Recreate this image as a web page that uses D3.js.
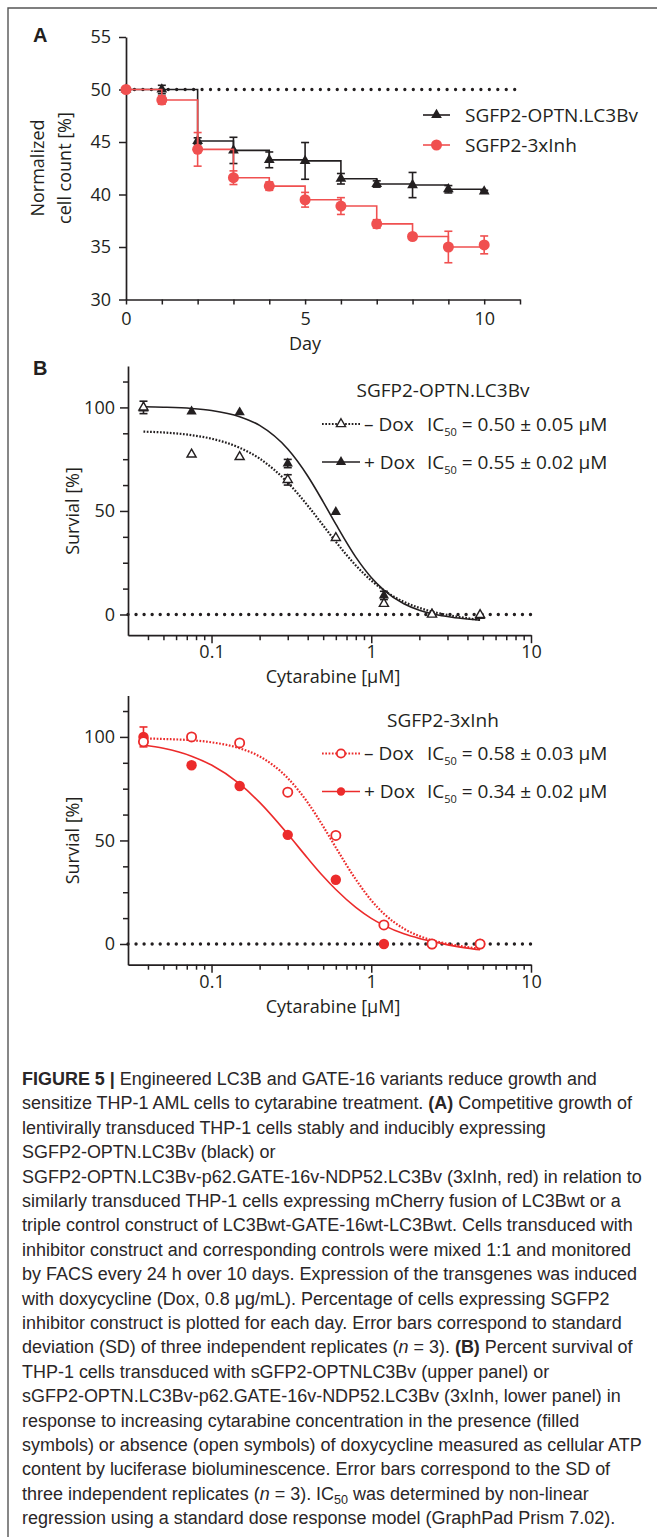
<!DOCTYPE html>
<html><head><meta charset="utf-8">
<script src="https://cdn.jsdelivr.net/npm/d3@7"></script>
<style>
body{margin:0;background:#fff;}
svg{display:block;}
</style></head>
<body>
<svg id="fig" width="657" height="1537"></svg>
<script>
// ---------------- DATA ----------------
// Panel A: competitive growth
const days = [0,1,2,3,4,5,6,7,8,9,10];
const optnMean = [50, 50, 45.1, 44.2, 43.3, 43.2, 41.5, 41.0, 40.9, 40.5, 40.3];
const optnSD   = [0, 0.4, 0.3, 1.25, 0.75, 1.75, 0.5, 0.3, 1.2, 0.35, 0.1];
const inhMean  = [50, 49.0, 44.3, 41.6, 40.8, 39.5, 38.9, 37.2, 36.0, 35.0, 35.2];
const inhSD    = [0, 0.4, 1.6, 0.65, 0.4, 0.7, 0.8, 0.4, 0.2, 1.5, 0.85];
const dayTicks = [0,1,2,3,4,5,6,7,8,9,10,11];
const dayLabels = [0,5,10];
const countTicks = [30,35,40,45,50,55];
const seriesNamesA = ["SGFP2-OPTN.LC3Bv","SGFP2-3xInh"];

// Panel B: dose response (cytarabine, µM)
const concentrations = [0.0375,0.075,0.15,0.3,0.6,1.2,2.4,4.8];
const optnMinusDox   = [100, 77.3, 76.1, 65.0, 37.0, 5.2, 0, -0.2];
const optnMinusSD    = [3, 0, 0, 2.5, 0, 0, 0, 0];
const optnPlusDox    = [99.5, 98.0, 97.6, 72.9, 49.5, 9.2, 0.3, -0.8];
const optnPlusSD     = [0, 0, 0, 2, 0, 2, 0, 0];
const inhMinusDox    = [97.7, 100, 97.1, 73.3, 52.4, 9.2, 0, 0];
const inhMinusSD     = [1.5, 0, 0, 0, 0, 0, 0, 0];
const inhPlusDox     = [100, 86.3, 76.3, 52.7, 31.0, 0, 0, 0];
const inhPlusSD      = [4.8, 0, 0, 0, 0, 0, 0, 0];
// fitted curves
const curveConc     = [0.0375,0.05,0.075,0.1,0.15,0.2,0.3,0.4,0.5,0.6,0.8,1.0,1.2,1.6,2.0,2.4,3.2,4.0,4.8];
const fitOptnMinus  = [88.3,87.9,86.6,84.9,80.5,75.3,63.7,52.6,43.0,35.1,23.7,16.4,11.7,6.1,3.2,1.4,-0.6,-1.8,-2.6];
const fitOptnPlus   = [100.3,100.1,99.5,98.5,95.5,91.3,79.9,66.9,54.4,43.6,27.7,17.9,11.8,5.2,2.1,0.4,-1.3,-2.2,-2.8];
const fitInhMinus   = [99.3,99.0,98.4,97.4,94.5,90.6,80.1,68.3,56.8,46.6,31.2,21.1,14.6,7.4,3.8,1.8,-0.3,-1.5,-2.3];
const fitInhPlus    = [96.1,94.5,90.7,86.4,77.3,68.4,53.1,41.4,32.7,26.3,17.7,12.4,9.0,4.9,2.7,1.3,-0.8,-2.0,-2.8];
const concMajor = [0.1,1,10];
const concMinor = [0.04,0.05,0.06,0.07,0.08,0.09,0.2,0.3,0.4,0.5,0.6,0.7,0.8,0.9,2,3,4,5,6,7,8,9];
const survMajor = [0,50,100];
const survMinor = [12.5,25,37.5,62.5,75,87.5,112.5];
const ic50Optn = ["0.50 ± 0.05","0.55 ± 0.02"];
const ic50Inh  = ["0.58 ± 0.03","0.34 ± 0.02"];

const captionLines = [
 [['FIGURE 5 | ','b'],['Engineered LC3B and GATE-16 variants reduce growth and','']],
 [['sensitize THP-1 AML cells to cytarabine treatment. ',''],['(A)','b'],[' Competitive growth of','']],
 [['lentivirally transduced THP-1 cells stably and inducibly expressing','']],
 [['SGFP2-OPTN.LC3Bv (black) or','']],
 [['SGFP2-OPTN.LC3Bv-p62.GATE-16v-NDP52.LC3Bv (3xInh, red) in relation to','']],
 [['similarly transduced THP-1 cells expressing mCherry fusion of LC3Bwt or a','']],
 [['triple control construct of LC3Bwt-GATE-16wt-LC3Bwt. Cells transduced with','']],
 [['inhibitor construct and corresponding controls were mixed 1:1 and monitored','']],
 [['by FACS every 24 h over 10 days. Expression of the transgenes was induced','']],
 [['with doxycycline (Dox, 0.8 μg/mL). Percentage of cells expressing SGFP2','']],
 [['inhibitor construct is plotted for each day. Error bars correspond to standard','']],
 [['deviation (SD) of three independent replicates (',''],['n','i'],[' = 3). ',''],['(B)','b'],[' Percent survival of','']],
 [['THP-1 cells transduced with sGFP2-OPTNLC3Bv (upper panel) or','']],
 [['sGFP2-OPTN.LC3Bv-p62.GATE-16v-NDP52.LC3Bv (3xInh, lower panel) in','']],
 [['response to increasing cytarabine concentration in the presence (filled','']],
 [['symbols) or absence (open symbols) of doxycycline measured as cellular ATP','']],
 [['content by luciferase bioluminescence. Error bars correspond to the SD of','']],
 [['three independent replicates (',''],['n','i'],[' = 3). IC',''],['50','sub'],[' was determined by non-linear','']],
 [['regression using a standard dose response model (GraphPad Prism 7.02).','']]
];

// ---------------- STYLE ----------------
const BLACK = '#231f20';
const RED_A = '#f05050';
const RED_B = '#ec2b2b';
const FONT = "'Open Sans','Noto Sans',sans-serif";
const CAPFONT = "'Liberation Sans',Arial,sans-serif";

const svg = d3.select('#fig');

// frame
svg.append('path').attr('d','M8,1537 V8 H657').attr('fill','none')
  .attr('stroke','#555').attr('stroke-width',1.4);

function styleAxis(g, fs){
  g.select('.domain').attr('stroke',BLACK).attr('stroke-width',1.7);
  g.selectAll('.tick line').attr('stroke',BLACK).attr('stroke-width',1.5);
  g.selectAll('text').attr('fill',BLACK).attr('font-family',FONT).attr('font-size',fs);
}
function errBars(g, xs, ys, sds, xScale, yScale, color, cap){
  xs.forEach((xv,i)=>{
    if(!sds[i]) return;
    const x = xScale(xv), y1 = yScale(ys[i]-sds[i]), y2 = yScale(ys[i]+sds[i]);
    g.append('line').attr('x1',x).attr('x2',x).attr('y1',y1).attr('y2',y2)
      .attr('stroke',color).attr('stroke-width',1.6);
    [y1,y2].forEach(yy=>g.append('line').attr('x1',x-cap).attr('x2',x+cap)
      .attr('y1',yy).attr('y2',yy).attr('stroke',color).attr('stroke-width',1.6));
  });
}
const triPath = s => d3.symbol(d3.symbolTriangle, s)();

// ---------------- PANEL A ----------------
const xA = d3.scaleLinear().domain([0,11]).range([126,520]);
const yA = d3.scaleLinear().domain([30,55]).range([299.5,37]);
const gA = svg.append('g');

svg.append('text').attr('x',33).attr('y',42).text('A')
  .attr('font-family',"'Liberation Sans',Arial,sans-serif").attr('font-weight','bold')
  .attr('font-size',20).attr('fill',BLACK);

const gyA = gA.append('g').attr('transform','translate(126,0)')
  .call(d3.axisLeft(yA).tickValues(countTicks).tickSize(7).tickPadding(8).tickSizeOuter(0));
styleAxis(gyA, 18);
const gxA = gA.append('g').attr('transform','translate(0,299.5)')
  .call(d3.axisBottom(xA).tickValues(dayTicks).tickSize(5).tickSizeOuter(0)
    .tickFormat(d=>dayLabels.includes(d)?String(d):''));
styleAxis(gxA, 18);
gxA.selectAll('text').attr('y',25).attr('dy',0);

gA.append('text').attr('x',xA(5)).attr('y',349.5).attr('text-anchor','middle')
  .attr('font-family',FONT).attr('font-size',18).attr('fill',BLACK).text('Day');
const yTitleA = gA.append('g').attr('transform','translate(0,168) rotate(-90)');
yTitleA.append('text').attr('x',0).attr('y',44).attr('text-anchor','middle')
  .attr('font-family',FONT).attr('font-size',18).attr('fill',BLACK).text('Normalized');
yTitleA.append('text').attr('x',0).attr('y',71).attr('text-anchor','middle')
  .attr('font-family',FONT).attr('font-size',18).attr('fill',BLACK).text('cell count [%]');

// dotted reference at 50
gA.append('line').attr('x1',xA(0)).attr('x2',xA(11)).attr('y1',yA(50)).attr('y2',yA(50))
  .attr('stroke',BLACK).attr('stroke-width',3.3).attr('stroke-linecap','round')
  .attr('stroke-dasharray','0 8.45');

const stepLine = d3.line().x(d=>xA(d[0])).y(d=>yA(d[1])).curve(d3.curveStepAfter);
// black series
gA.append('path').attr('d',stepLine(days.map((d,i)=>[d,optnMean[i]])))
  .attr('fill','none').attr('stroke',BLACK).attr('stroke-width',1.6);
errBars(gA, days, optnMean, optnSD, xA, yA, BLACK, 4);
days.forEach((d,i)=>gA.append('path').attr('d',triPath(50))
  .attr('transform',`translate(${xA(d)},${yA(optnMean[i])})`).attr('fill',BLACK));
// red series
gA.append('path').attr('d',stepLine(days.map((d,i)=>[d,inhMean[i]])))
  .attr('fill','none').attr('stroke',RED_A).attr('stroke-width',1.6);
errBars(gA, days, inhMean, inhSD, xA, yA, RED_A, 4);
days.forEach((d,i)=>gA.append('circle').attr('cx',xA(d)).attr('cy',yA(inhMean[i]))
  .attr('r',5.5).attr('fill',RED_A));

// legend A
[[BLACK,115,'tri'],[RED_A,145,'circ']].forEach((L,k)=>{
  gA.append('line').attr('x1',423).attr('x2',450).attr('y1',L[1]).attr('y2',L[1])
    .attr('stroke',L[0]).attr('stroke-width',1.6);
  if(L[2]==='tri') gA.append('path').attr('d',triPath(50)).attr('transform',`translate(436.5,${L[1]})`).attr('fill',L[0]);
  else gA.append('circle').attr('cx',436.5).attr('cy',L[1]).attr('r',5.5).attr('fill',L[0]);
  gA.append('text').attr('x',465).attr('y',L[1]+6.5).attr('font-family',FONT)
    .attr('font-size',19).attr('fill',BLACK).text(seriesNamesA[k]);
});

// ---------------- PANEL B ----------------
svg.append('text').attr('x',33).attr('y',375).text('B')
  .attr('font-family',"'Liberation Sans',Arial,sans-serif").attr('font-weight','bold')
  .attr('font-size',20).attr('fill',BLACK);

function dosePanel(cfg){
  const g = svg.append('g');
  const x = d3.scaleLog().domain([0.03,10]).range([128,531]);
  const y = d3.scaleLinear().domain([-10,120]).range([cfg.top+269.2, cfg.top]);
  const axisY = cfg.top+269.2;

  // y axis
  const gyMin = g.append('g').attr('transform','translate(128,0)')
    .call(d3.axisLeft(y).tickValues(survMinor).tickSize(5).tickFormat('').tickSizeOuter(0));
  styleAxis(gyMin, 18); gyMin.select('.domain').remove();
  const gy = g.append('g').attr('transform','translate(128,0)')
    .call(d3.axisLeft(y).tickValues(survMajor).tickSize(8).tickPadding(5).tickSizeOuter(0));
  styleAxis(gy, 18);
  // x axis
  const gxMin = g.append('g').attr('transform',`translate(0,${axisY})`)
    .call(d3.axisBottom(x).tickValues(concMinor).tickSize(5).tickFormat('').tickSizeOuter(0));
  styleAxis(gxMin, 18); gxMin.select('.domain').remove();
  const gx = g.append('g').attr('transform',`translate(0,${axisY})`)
    .call(d3.axisBottom(x).tickValues(concMajor).tickSize(8).tickSizeOuter(0)
      .tickFormat(d=>d<1?String(d):d3.format('d')(d)));
  styleAxis(gx, 18);
  gx.selectAll('text').attr('y',23).attr('dy',0);

  g.append('text').attr('x',333).attr('y',axisY+48).attr('text-anchor','middle')
    .attr('font-family',FONT).attr('font-size',18).attr('fill',BLACK).text('Cytarabine [μM]');
  g.append('text').attr('transform',`translate(79,${y(50)}) rotate(-90)`).attr('text-anchor','middle')
    .attr('font-family',FONT).attr('font-size',18).attr('fill',BLACK).text('Survial [%]');

  // zero dotted line
  g.append('line').attr('x1',128).attr('x2',531).attr('y1',y(0)).attr('y2',y(0))
    .attr('stroke',BLACK).attr('stroke-width',3.4).attr('stroke-linecap','round')
    .attr('stroke-dasharray','0 8.05');

  const line = d3.line().x(d=>x(d[0])).y(d=>y(d[1])).curve(d3.curveMonotoneX);
  // fitted curves
  g.append('path').attr('d',line(curveConc.map((c,i)=>[c,cfg.fitMinus[i]])))
    .attr('fill','none').attr('stroke',cfg.color).attr('stroke-width',2.2)
    .attr('stroke-dasharray','1.7 1.6');
  g.append('path').attr('d',line(curveConc.map((c,i)=>[c,cfg.fitPlus[i]])))
    .attr('fill','none').attr('stroke',cfg.color).attr('stroke-width',1.6);

  // filled (+Dox)
  errBars(g, concentrations, cfg.plus, cfg.plusSD, x, y, cfg.color, 4);
  concentrations.forEach((c,i)=>{
    if(cfg.shape==='tri') g.append('path').attr('d',triPath(46))
      .attr('transform',`translate(${x(c)},${y(cfg.plus[i])})`).attr('fill',cfg.color);
    else g.append('circle').attr('cx',x(c)).attr('cy',y(cfg.plus[i])).attr('r',5.2).attr('fill',cfg.color);
  });
  // open (-Dox)
  errBars(g, concentrations, cfg.minus, cfg.minusSD, x, y, cfg.color, 4);
  concentrations.forEach((c,i)=>{
    if(cfg.shape==='tri') g.append('path').attr('d',triPath(36))
      .attr('transform',`translate(${x(c)},${y(cfg.minus[i])})`).attr('fill','#fff')
      .attr('stroke',cfg.color).attr('stroke-width',1.4);
    else g.append('circle').attr('cx',x(c)).attr('cy',y(cfg.minus[i])).attr('r',4.6)
      .attr('fill','#fff').attr('stroke',cfg.color).attr('stroke-width',1.8);
  });

  // legend
  g.append('text').attr('x',443).attr('y',cfg.top+31).attr('text-anchor','middle')
    .attr('font-family',FONT).attr('font-size',19).attr('fill',BLACK).text(cfg.title);
  [['– Dox',cfg.top+58,false,cfg.ic[0]],['+ Dox',cfg.top+96,true,cfg.ic[1]]].forEach(r=>{
    const ly = r[1];
    const seg = g.append('line').attr('x1',322).attr('x2',360).attr('y1',ly).attr('y2',ly)
      .attr('stroke',cfg.color);
    if(r[2]) seg.attr('stroke-width',1.6);
    else seg.attr('stroke-width',2.2).attr('stroke-dasharray','1.7 1.6');
    if(cfg.shape==='tri'){
      g.append('path').attr('d',triPath(r[2]?46:36)).attr('transform',`translate(341,${ly})`)
        .attr('fill',r[2]?cfg.color:'#fff').attr('stroke',r[2]?'none':cfg.color).attr('stroke-width',1.4);
    } else {
      g.append('circle').attr('cx',341).attr('cy',ly).attr('r',4.2)
        .attr('fill',r[2]?cfg.color:'#fff').attr('stroke',r[2]?'none':cfg.color).attr('stroke-width',1.8);
    }
    g.append('text').attr('x',364).attr('y',ly+6.5).attr('font-family',FONT)
      .attr('font-size',19).attr('fill',BLACK).text(r[0]);
    const t = g.append('text').attr('x',427).attr('y',ly+6.5).attr('font-family',FONT)
      .attr('font-size',19).attr('fill',BLACK);
    t.append('tspan').text('IC');
    t.append('tspan').attr('font-size',11).attr('dy',5).text('50');
    t.append('tspan').attr('dy',-5).text(' = ' + r[3] + ' μM');
  });
}

dosePanel({top:366, color:BLACK, shape:'tri', title:'SGFP2-OPTN.LC3Bv',
  minus:optnMinusDox, minusSD:optnMinusSD, plus:optnPlusDox, plusSD:optnPlusSD,
  fitMinus:fitOptnMinus, fitPlus:fitOptnPlus, ic:ic50Optn});
dosePanel({top:695.5, color:RED_B, shape:'circ', title:'SGFP2-3xInh',
  minus:inhMinusDox, minusSD:inhMinusSD, plus:inhPlusDox, plusSD:inhPlusSD,
  fitMinus:fitInhMinus, fitPlus:fitInhPlus, ic:ic50Inh});

// ---------------- CAPTION ----------------
// condensed sans: Liberation Sans compressed horizontally to the reference line width
const capX = 22, capY0 = 1085, capDY = 24.4, capFS = 19;
const probe = svg.append('text').attr('font-family',CAPFONT).attr('font-size',capFS)
  .text(captionLines[15][0][0]);
const w = probe.node().getComputedTextLength();
probe.remove();
const kx = Math.min(1, 620 / w);
const cap = svg.append('g').attr('transform',`translate(${capX},0) scale(${kx},1)`);
captionLines.forEach((segs,li)=>{
  const t = cap.append('text').attr('x',0).attr('y',capY0+li*capDY)
    .attr('font-family',CAPFONT).attr('font-size',capFS).attr('fill','#2a2627');
  let sub = false;
  segs.forEach(s=>{
    const ts = t.append('tspan').text(s[0]);
    if(s[1]==='b') ts.attr('font-weight','bold');
    if(s[1]==='i') ts.attr('font-style','italic');
    if(s[1]==='sub'){ ts.attr('font-size',capFS*0.7).attr('dy',4); sub = true; }
    else if(sub){ ts.attr('dy',-4); sub = false; }
  });
});
</script>
</body></html>
